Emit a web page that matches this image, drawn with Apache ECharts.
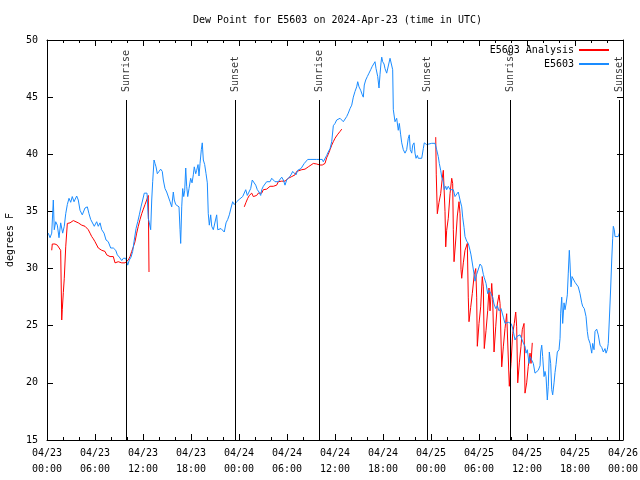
<!DOCTYPE html>
<html><head><meta charset="utf-8">
<script src="https://cdn.jsdelivr.net/npm/echarts@6/dist/echarts.min.js"></script>
<style>html,body{margin:0;padding:0;background:#fff}#c{width:640px;height:480px}</style>
</head><body><div id="c"></div>
<script>
const titleText = 'Dew Point for E5603 on 2024-Apr-23 (time in UTC)';
const yAxisName = 'degrees F';
const xTickLabels = ['04/23\n00:00','04/23\n06:00','04/23\n12:00','04/23\n18:00','04/24\n00:00','04/24\n06:00','04/24\n12:00','04/24\n18:00','04/25\n00:00','04/25\n06:00','04/25\n12:00','04/25\n18:00','04/26\n00:00'];
const seriesNames = ['E5603 Analysis', 'E5603'];

// hours since 04/23 00:00 UTC
const blueHours = [
0.16,0.38,0.59,0.79,0.91,1.09,1.29,1.5,1.71,1.96,
2.16,2.34,2.54,2.75,2.96,3.16,3.38,3.71,3.91,4.13,
4.41,4.75,5.04,5.25,5.46,5.66,5.91,6.21,6.41,6.63,
6.84,7.13,7.38,7.66,7.96,8.29,8.59,8.79,9.04,9.34,
9.54,9.84,10.09,10.29,10.5,10.71,10.91,11.13,11.34,11.54,
11.75,11.96,12.16,12.25,12.5,12.66,12.79,12.96,13.09,13.21,
13.38,13.5,13.63,13.79,14.0,14.21,14.41,14.54,14.75,14.96,
15.16,15.38,15.59,15.79,15.91,16.09,16.29,16.5,16.63,16.71,
16.84,16.96,17.09,17.21,17.34,17.46,17.59,17.75,17.96,18.13,
18.29,18.41,18.59,18.71,18.88,19.0,19.13,19.29,19.41,19.54,
19.71,19.88,20.04,20.16,20.29,20.46,20.59,20.79,21.0,21.21,
21.34,21.54,21.75,21.96,22.16,22.38,22.59,22.79,23.0,23.21,
23.41,23.71,24.04,24.46,24.66,24.84,25.04,25.25,25.46,25.66,
25.88,26.09,26.29,26.5,26.71,26.84,27.04,27.25,27.46,27.66,
27.88,28.09,28.29,28.5,28.71,28.91,29.13,29.34,29.54,29.75,
29.96,30.09,30.29,30.5,30.71,30.91,31.13,31.34,31.54,31.75,
31.96,32.16,32.38,32.59,32.88,33.25,33.71,34.13,34.41,34.54,
34.75,34.96,35.16,35.38,35.59,35.79,36.0,36.21,36.41,36.63,
36.84,37.04,37.25,37.46,37.66,37.88,38.09,38.29,38.5,38.71,
38.84,39.0,39.21,39.41,39.54,39.66,39.84,40.04,40.25,40.46,
40.66,40.88,41.0,41.13,41.34,41.5,41.63,41.75,41.84,41.96,
42.13,42.25,42.46,42.66,42.88,43.09,43.21,43.29,43.5,43.71,
43.91,44.04,44.21,44.34,44.54,44.75,44.96,45.16,45.29,45.41,
45.59,45.71,45.88,46.0,46.13,46.29,46.41,46.63,46.84,47.04,
47.16,47.46,47.66,48.09,48.5,48.71,48.91,49.04,49.21,49.34,
49.54,49.66,49.84,49.96,50.16,50.38,50.59,50.79,51.0,51.21,
51.41,51.63,51.84,51.96,52.13,52.25,52.46,52.66,52.88,53.0,
53.16,53.41,53.5,53.71,53.91,54.13,54.34,54.54,54.66,54.88,
55.09,55.25,55.5,55.71,55.88,56.09,56.29,56.5,56.75,57.04,
57.25,57.46,57.66,57.88,58.0,58.16,58.29,58.5,58.71,58.91,
59.13,59.34,59.54,59.75,59.88,60.04,60.25,60.38,60.59,60.79,
61.0,61.13,61.41,61.63,61.71,61.84,61.96,62.13,62.25,62.38,
62.54,62.66,62.79,62.96,63.09,63.21,63.38,63.5,63.63,63.79,
64.0,64.13,64.21,64.34,64.46,64.63,64.75,64.88,65.04,65.16,
65.29,65.38,65.5,65.63,65.79,66.0,66.21,66.41,66.63,66.84,
66.96,67.16,67.38,67.54,67.66,67.88,68.09,68.21,68.38,68.5,
68.71,68.91,69.13,69.34,69.54,69.75,69.88,70.04,70.16,70.29,
70.46,70.59,70.71,70.79,70.91,71.0,71.21,71.41,71.54
];
const blueValues = [
33.1,32.7,33.1,36.0,33.4,34.1,33.8,32.7,34.0,33.1,
33.7,34.8,35.6,36.15,35.8,36.3,35.85,36.35,36.0,35.1,
34.7,35.3,35.4,34.8,34.3,34.3,33.7,34.1,33.7,34.0,
33.4,33.1,32.5,32.35,31.8,31.8,31.6,31.2,31.0,30.7,
30.9,30.9,30.3,30.75,31.0,31.5,32.5,33.5,34.1,34.7,
35.4,36.0,36.6,36.7,36.6,34.4,34.0,33.4,36.0,37.6,
39.5,39.2,38.9,38.3,38.5,38.7,38.5,37.75,37.0,36.7,
36.6,35.85,35.4,36.7,36.0,35.6,35.7,35.4,33.4,32.2,
35.4,37.0,36.3,36.8,38.8,37.2,36.3,37.0,37.9,37.5,
38.2,38.9,38.3,38.6,39.1,38.1,39.2,40.4,41.0,39.5,
39.1,38.3,37.5,34.8,33.8,34.7,33.7,33.4,33.5,34.7,
33.4,33.5,33.5,33.5,33.2,34.0,34.3,34.7,35.3,35.85,
35.6,35.85,36.06,36.3,36.4,36.9,36.4,36.3,37.0,37.75,
37.75,37.3,36.9,36.7,36.4,36.9,37.2,37.1,37.6,37.75,
37.6,37.9,37.75,37.6,37.45,37.6,37.75,38.0,37.75,37.3,
37.75,37.9,38.0,38.2,38.5,38.5,38.2,38.6,38.5,38.75,
38.9,39.2,39.35,39.55,39.55,39.55,39.55,39.55,39.55,39.35,
39.5,39.9,40.2,40.5,41.1,42.5,42.7,43.0,42.85,43.15,
43.0,42.85,43.0,43.3,43.6,44.0,44.3,45.0,45.5,45.9,
46.35,45.9,45.6,45.2,45.0,46.06,46.5,46.8,47.1,47.4,
47.7,47.8,48.1,47.5,46.8,45.8,47.0,48.0,48.5,48.1,
47.9,47.5,47.1,47.25,48.4,48.5,47.4,43.9,42.85,43.15,
42.1,42.7,41.7,41.0,40.4,40.1,40.4,41.4,41.7,40.4,
40.1,40.8,41.0,40.1,39.65,39.9,39.65,39.8,39.65,40.5,
41.0,40.85,41.0,40.96,40.96,40.4,39.8,39.2,38.6,38.0,
37.6,36.9,37.2,36.9,37.2,36.9,37.05,36.9,36.3,36.3,
36.7,36.0,35.4,34.5,33.6,32.8,32.4,32.2,31.6,31.2,
31.05,29.4,28.9,29.5,29.5,30.4,30.2,29.5,29.2,28.7,
27.8,28.1,27.8,27.5,26.9,26.5,26.75,26.3,26.5,25.75,
25.2,25.3,25.3,25.45,25.2,24.9,24.5,23.75,24.05,24.2,
24.2,24.05,23.5,23.2,22.6,22.9,21.7,22.3,22.2,21.7,
20.85,20.7,21.1,21.5,22.7,23.3,22.3,20.55,21.0,20.55,
18.5,19.7,22.7,21.7,19.4,18.95,20.0,20.9,21.6,22.7,
22.9,23.9,26.1,27.5,25.2,27.0,26.4,26.9,27.7,29.6,
31.6,30.4,28.4,29.3,29.2,28.8,28.7,28.4,27.8,27.0,
26.7,26.5,25.8,24.5,23.9,23.45,22.6,23.45,22.9,24.5,
24.7,24.2,23.3,23.1,22.7,23.0,22.6,22.9,23.45,25.5,
28.3,30.75,32.65,33.7,33.4,32.8,32.7,32.8,33.1
];

// null marks a gap in the analysis series
const redHours = [
0.59,0.66,1.0,1.29,1.54,1.71,1.84,1.91,2.04,2.16,
2.34,2.54,2.88,3.09,3.29,3.5,3.91,4.13,4.34,4.54,
4.75,4.96,5.16,5.38,5.59,5.79,6.0,6.21,6.41,6.63,
6.84,7.04,7.25,7.46,7.66,7.88,8.09,8.29,8.5,8.71,
8.91,9.13,9.34,9.75,9.96,10.16,10.38,10.59,10.79,11.0,
11.21,11.41,11.63,11.84,12.04,12.25,12.46,12.66,12.75,18.0,
24.66,24.88,25.09,25.29,25.59,25.79,26.0,26.21,26.41,26.63,
26.84,27.04,27.46,27.66,27.88,28.29,28.71,28.91,29.34,29.75,
29.96,30.16,30.38,30.59,30.79,31.0,31.21,31.41,31.84,32.25,
32.46,32.66,33.0,33.29,33.71,34.13,34.41,34.75,34.96,35.16,
35.38,35.59,35.79,36.0,36.29,36.63,36.84,42.0,
48.59,48.66,48.79,49.0,49.21,49.41,49.54,49.66,49.75,49.84,
49.96,50.16,50.38,50.59,50.71,50.79,50.88,51.09,51.29,51.5,
51.63,51.75,51.84,52.04,52.25,52.54,52.66,52.75,52.96,53.16,
53.41,53.59,53.71,53.79,54.0,54.21,54.41,54.54,54.66,54.88,
55.09,55.25,55.38,55.59,55.71,55.88,56.09,56.29,56.5,56.63,
56.84,57.04,57.25,57.46,57.66,57.79,58.0,58.21,58.41,58.59,
58.71,58.84,59.04,59.25,59.41,59.63,59.75,59.96,60.16,60.38,
60.5,60.66
];
const redValues = [
31.6,32.15,32.15,32.05,32.05,31.6,25.5,26.4,27.9,29.15,
31.9,33.95,34.0,34.1,34.2,34.25,34.0,33.95,33.8,33.7,
33.7,33.6,33.4,33.1,32.8,32.6,32.35,32.2,31.8,31.65,
31.6,31.65,31.5,31.2,31.05,31.05,30.9,31.05,30.5,30.4,
30.6,30.6,30.5,30.5,30.6,30.75,31.05,31.5,31.9,32.35,
33.1,33.7,34.3,34.8,35.2,35.6,36.0,36.4,29.7,null,
35.4,35.8,36.15,36.4,36.6,36.3,36.15,36.4,36.6,36.75,
36.6,36.9,36.95,37.0,37.2,37.2,37.3,37.6,37.65,37.65,
37.75,37.9,37.9,38.05,37.9,38.2,38.5,38.6,38.65,38.7,
38.8,38.9,39.06,39.2,39.15,39.06,39.06,39.2,39.7,40.0,
40.4,40.8,41.1,41.4,41.7,42.0,42.2,null,
41.5,38.2,34.8,35.8,36.55,37.9,38.6,38.45,35.0,31.9,
33.35,34.4,36.55,37.9,37.45,33.4,30.6,32.5,34.6,35.85,
34.8,29.9,29.15,30.5,31.6,32.2,27.5,25.35,26.6,27.8,
29.5,30.0,27.5,23.2,25.2,26.65,29.3,28.4,23.0,24.6,
26.35,28.3,26.3,28.7,27.3,22.7,24.9,26.9,27.7,26.95,
21.4,23.15,24.75,26.05,26.05,19.7,21.7,24.3,25.2,26.2,
24.9,20.0,21.75,23.2,24.65,25.2,19.1,20.0,21.45,22.6,
21.7,23.5
];

const eventHours = [9.875, 23.5, 34.0, 47.5, 57.875, 71.5];
const eventNames = ['Sunrise', 'Sunset', 'Sunrise', 'Sunset', 'Sunrise', 'Sunset'];
const eventLineTop = 44.75;
const eventLabelBase = 45.45;

const FONT = 'DejaVu Sans Mono';
const BLUE = '#1a8cff';
const RED = '#ff0000';
const txt = { fontFamily: FONT, fontSize: 10, color: '#000' };

const blueData = blueHours.map((t, i) => [t, blueValues[i]]);
const redData = redHours.map((t, i) => [t, redValues[i] === null ? '-' : redValues[i]]);

const axisCommon = {
  axisLine: { show: true, onZero: false, lineStyle: { color: '#000', width: 1 } },
  axisTick: { show: true, inside: true, length: 6, lineStyle: { color: '#000', width: 1 } },
  splitLine: { show: false }
};

const chart = echarts.init(document.getElementById('c'), null, { renderer: 'canvas' });
chart.setOption({
  animation: false,
  backgroundColor: '#fff',
  title: { text: titleText, left: 188, top: 10, textStyle: Object.assign({ fontWeight: 'normal' }, txt) },
  legend: {
    data: seriesNames, orient: 'vertical', right: 30, top: 45, align: 'right',
    itemWidth: 30, itemHeight: 10, itemGap: 4, textStyle: txt, padding: 0,
    itemStyle: { opacity: 0 }
  },
  grid: { left: 47, right: 17, top: 40, bottom: 40, containLabel: false, outerBoundsMode: 'none' },
  xAxis: [
    Object.assign({}, axisCommon, {
      type: 'value', min: 0, max: 72, interval: 6, position: 'bottom',
      minorTick: { show: true, splitNumber: 3, length: 3, lineStyle: { color: '#000' } },
      minorSplitLine: { show: false },
      axisLabel: Object.assign({ lineHeight: 16, margin: 5, formatter: v => xTickLabels[Math.round(v / 6)] }, txt)
    }),
    Object.assign({}, axisCommon, {
      type: 'value', min: 0, max: 72, interval: 6, position: 'top',
      minorTick: { show: true, splitNumber: 3, length: 3, lineStyle: { color: '#000' } },
      minorSplitLine: { show: false },
      axisLabel: { show: false }
    })
  ],
  yAxis: [
    Object.assign({}, axisCommon, {
      type: 'value', min: 15, max: 50, interval: 5, position: 'left',
      name: yAxisName, nameLocation: 'middle', nameGap: 31, nameTextStyle: txt,
      axisLabel: Object.assign({ margin: 9 }, txt)
    }),
    Object.assign({}, axisCommon, {
      type: 'value', min: 15, max: 50, interval: 5, position: 'right',
      axisLabel: { show: false }
    })
  ],
  series: [
    {
      name: seriesNames[0], type: 'line', data: redData, symbol: 'none', showSymbol: false,
      connectNulls: false, lineStyle: { color: RED, width: 1 }, itemStyle: { color: RED }, z: 3
    },
    {
      name: seriesNames[1], type: 'line', data: blueData, symbol: 'none', showSymbol: false,
      lineStyle: { color: BLUE, width: 1 }, itemStyle: { color: BLUE }, z: 4,
      markLine: {
        silent: true, symbol: ['none', 'none'], label: { show: false },
        lineStyle: { color: '#000', width: 1, type: 'solid' },
        data: eventHours.map(t => [{ coord: [t, 15] }, { coord: [t, eventLineTop] }])
      }
    },
    {
      name: 'events', type: 'scatter', symbolSize: 1, itemStyle: { color: 'rgba(0,0,0,0)' }, silent: true,
      data: eventHours.map((t, i) => ({ value: [t, eventLabelBase], name: eventNames[i] })),
      label: Object.assign({ show: true, position: 'inside', rotate: 90, align: 'left', verticalAlign: 'middle', formatter: p => p.name }, txt),
      z: 5
    }
  ]
});
</script>
</body></html>
